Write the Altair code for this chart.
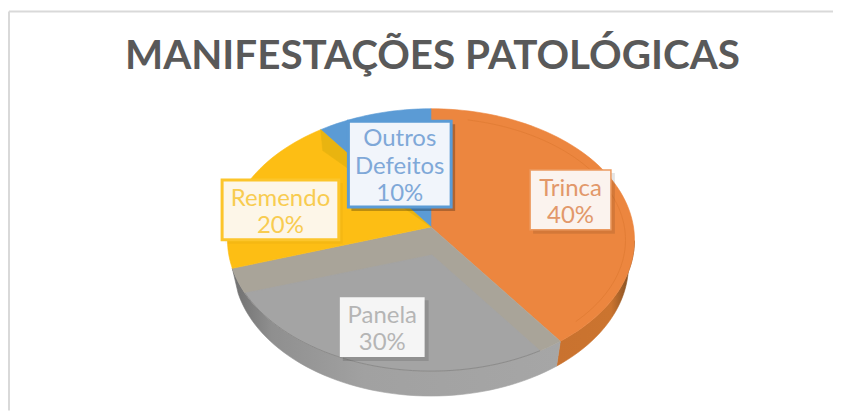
import math
import altair as alt
import pandas as pd

# ---- data ----
categories = ["Trinca", "Panela", "Remendo", "Outros Defeitos"]
shares = [40, 30, 20, 10]
label_lines = [["Trinca", "40%"], ["Panela", "30%"], ["Remendo", "20%"], ["Outros", "Defeitos", "10%"]]
title_text = "MANIFESTAÇÕES PATOLÓGICAS"

# ---- styles and layout ----
face = ["#EC863F", "#A9A499", "#FDBE14", "#5B9BD5"]
ink = ["#E2986A", "#B5B5B5", "#F8CC50", "#7FA8D8"]
box_fill = ["#FBF3EE", "#F5F5F5", "#FDF6E8", "#F1F5FB"]
box_line = ["#EC9A60", "#F5F5F5", "#FCC52B", "#5B9BD5"]
box_line_w = [1.5, 0, 3, 3]
box_shadow = [0.10, 0.12, 0.03, 0.25]
box_size = [(81, 60), (85, 60), (117, 60), (103, 86)]
nudge = [(5, 1), (1, 2), (-16, 11), (10, 18.5)]
line_h = [27, 27, 27, 27.5]
TEXT_DY = 2.5
CX, CY, RY_CY, RX, RY, DEPTH, RX_LOW = 431, 227, 240, 204, 131.5, 25, 198
OFF = 8  # page margin
E = (RY_CY - CY) / RY  # perspective shift of the pie centre


def rim(deg, rx=RX, ry=RY, cy=RY_CY):
    """Point of a pie angle on the perspective-viewed rim."""
    a = math.radians(deg)
    u, v = math.sin(a), -math.cos(a)
    d = 1 - E * v
    return (CX + rx * u * math.sqrt(1 - E * E) / d, cy + ry * (v - E) / d)


def arc(a, b, **kw):
    n = max(2, int(abs(b - a) / 2) + 1)
    return [rim(a + (b - a) * i / (n - 1), **kw) for i in range(n)]


def shape(points, closed=True):
    pts = [[x - OFF, y - OFF] for x, y in points]
    if closed:
        pts = pts + [pts[0]]
        geom = {"type": "Polygon", "coordinates": [pts]}
    else:
        geom = {"type": "LineString", "coordinates": pts}
    return alt.Data(values=[{"type": "Feature", "properties": {}, "geometry": geom}])


proj = alt.Projection(type="identity", scale=1, translate=[0, 0])


def poly(points, fill, stroke=None, sw=0.6):
    kw = dict(fill=fill, stroke=stroke or fill, strokeWidth=sw)
    return alt.Chart(shape(points)).mark_geoshape(**kw).project(**proj.to_dict())


def hgrad(stops):
    return alt.Gradient(gradient="linear", x1=0, x2=1, y1=0, y2=0,
                        stops=[alt.GradientStop(offset=o, color=c) for o, c in stops])


# cumulative angles, from the shares
edges = [0]
for s in shares:
    edges.append(edges[-1] + s * 3.6)
apex = (CX, CY)

layers = []

# side wall
low = dict(rx=RX_LOW, ry=RY, cy=RY_CY + DEPTH)
layers.append(poly(arc(edges[0] + 96, edges[1]) + arc(edges[1], edges[0] + 96, **low),
                   hgrad([(0, "#C9722F"), (0.7, "#CB742F"), (1, "#6E4520")])))
layers.append(poly(arc(edges[1], edges[2]) + arc(edges[2], edges[1], **low),
                   hgrad([(0, "#6F6F6F"), (0.12, "#8F8F8F"), (0.4, "#A1A1A1"), (1, "#A6A6A6")])))

# top face
for i in range(4):
    layers.append(poly([apex] + arc(edges[i], edges[i + 1]), face[i]))

# inner bevels
BEVEL_DY = 28
panel_inner = [(apex[0] + 1, apex[1] + BEVEL_DY)] + arc(edges[1] + 6.5, edges[2] - 11)
layers.append(poly(panel_inner, "#A4A4A4"))
r324 = rim(edges[3])
layers.append(poly([r324, apex, (r324[0] + 2, r324[1] + 21)], "#E9B410"))
layers.append(
    alt.Chart(shape(arc(edges[0] + 12, edges[1] - 8, rx=RX - 9, ry=RY - 9), closed=False))
    .mark_geoshape(filled=False, stroke="#E27D36", strokeWidth=1)
    .project(**proj.to_dict())
)
layers.append(
    alt.Chart(shape(arc(edges[1] + 6.5, edges[2] - 11), closed=False))
    .mark_geoshape(filled=False, stroke="#8C8C8C", strokeWidth=1)
    .project(**proj.to_dict())
)

# label boxes, anchored on each slice's mid angle
rows, texts = [], []
for i, cat in enumerate(categories):
    px, py = rim((edges[i] + edges[i + 1]) / 2)
    mx = CX + 0.72 * (px - CX) + nudge[i][0]
    my = CY + 0.72 * (py - CY) + nudge[i][1]
    w, h = box_size[i]
    rows.append(dict(x=mx - w / 2, x2=mx + w / 2, y=my - h / 2, y2=my + h / 2,
                     fill=box_fill[i], line=box_line[i], lw=box_line_w[i], shade=box_shadow[i],
                     sx=mx - w / 2 + 3, sx2=mx + w / 2 + 4, sy=my - h / 2 + 3, sy2=my + h / 2 + 4))
    n = len(label_lines[i])
    for j, t in enumerate(label_lines[i]):
        texts.append(dict(x=mx, y=my + TEXT_DY + (j - (n - 1) / 2) * line_h[i], t=t, ink=ink[i]))
boxes = pd.DataFrame(rows)
labels = pd.DataFrame(texts)

RIGHT, BOTTOM = 834, 411
X = lambda f: alt.X(f, type="quantitative", scale=alt.Scale(domain=[OFF, RIGHT]), axis=None)
Y = lambda f: alt.Y(f, type="quantitative", scale=alt.Scale(domain=[BOTTOM, OFF]), axis=None)

layers.append(
    alt.Chart(boxes).mark_rect(color="#000000").encode(
        x=X("sx"), x2="sx2", y=Y("sy"), y2="sy2",
        opacity=alt.Opacity("shade:Q", scale=None))
)
layers.append(
    alt.Chart(boxes).mark_rect().encode(
        x=X("x"), x2="x2", y=Y("y"), y2="y2",
        fill=alt.Fill("fill:N", scale=None),
        stroke=alt.Stroke("line:N", scale=None),
        strokeWidth=alt.StrokeWidth("lw:Q", scale=None),
    )
)
layers.append(
    alt.Chart(labels).mark_text(font="Lato", fontSize=24, align="center", baseline="middle").encode(
        x=X("x"), y=Y("y"), text="t:N", color=alt.Color("ink:N", scale=None)
    )
)

# title
layers.append(
    alt.Chart(pd.DataFrame({"t": [title_text], "x": [432.5], "y": [57]}))
    .mark_text(font="Lato", fontSize=40.5, fontWeight="bold", color="#595959", align="center", baseline="middle")
    .encode(x=X("x"), y=Y("y"), text="t:N")
)

# chart frame
frame_h = alt.Chart(pd.DataFrame({"x": [OFF], "x2": [RIGHT], "y": [11]})).mark_rule(color="#D9D9D9", strokeWidth=2).encode(
    x=X("x"), x2="x2", y=Y("y"))
frame_v = alt.Chart(pd.DataFrame({"x": [OFF], "y": [11], "y2": [BOTTOM]})).mark_rule(color="#D9D9D9", strokeWidth=2).encode(
    x=X("x"), y=Y("y"), y2="y2")

chart = (
    alt.layer(frame_h, frame_v, *layers)
    .properties(width=826, height=403, padding=0, background="white")
    .configure_view(stroke=None)
)
chart.save("out.html", embed_options={"renderer": "svg", "actions": False})
